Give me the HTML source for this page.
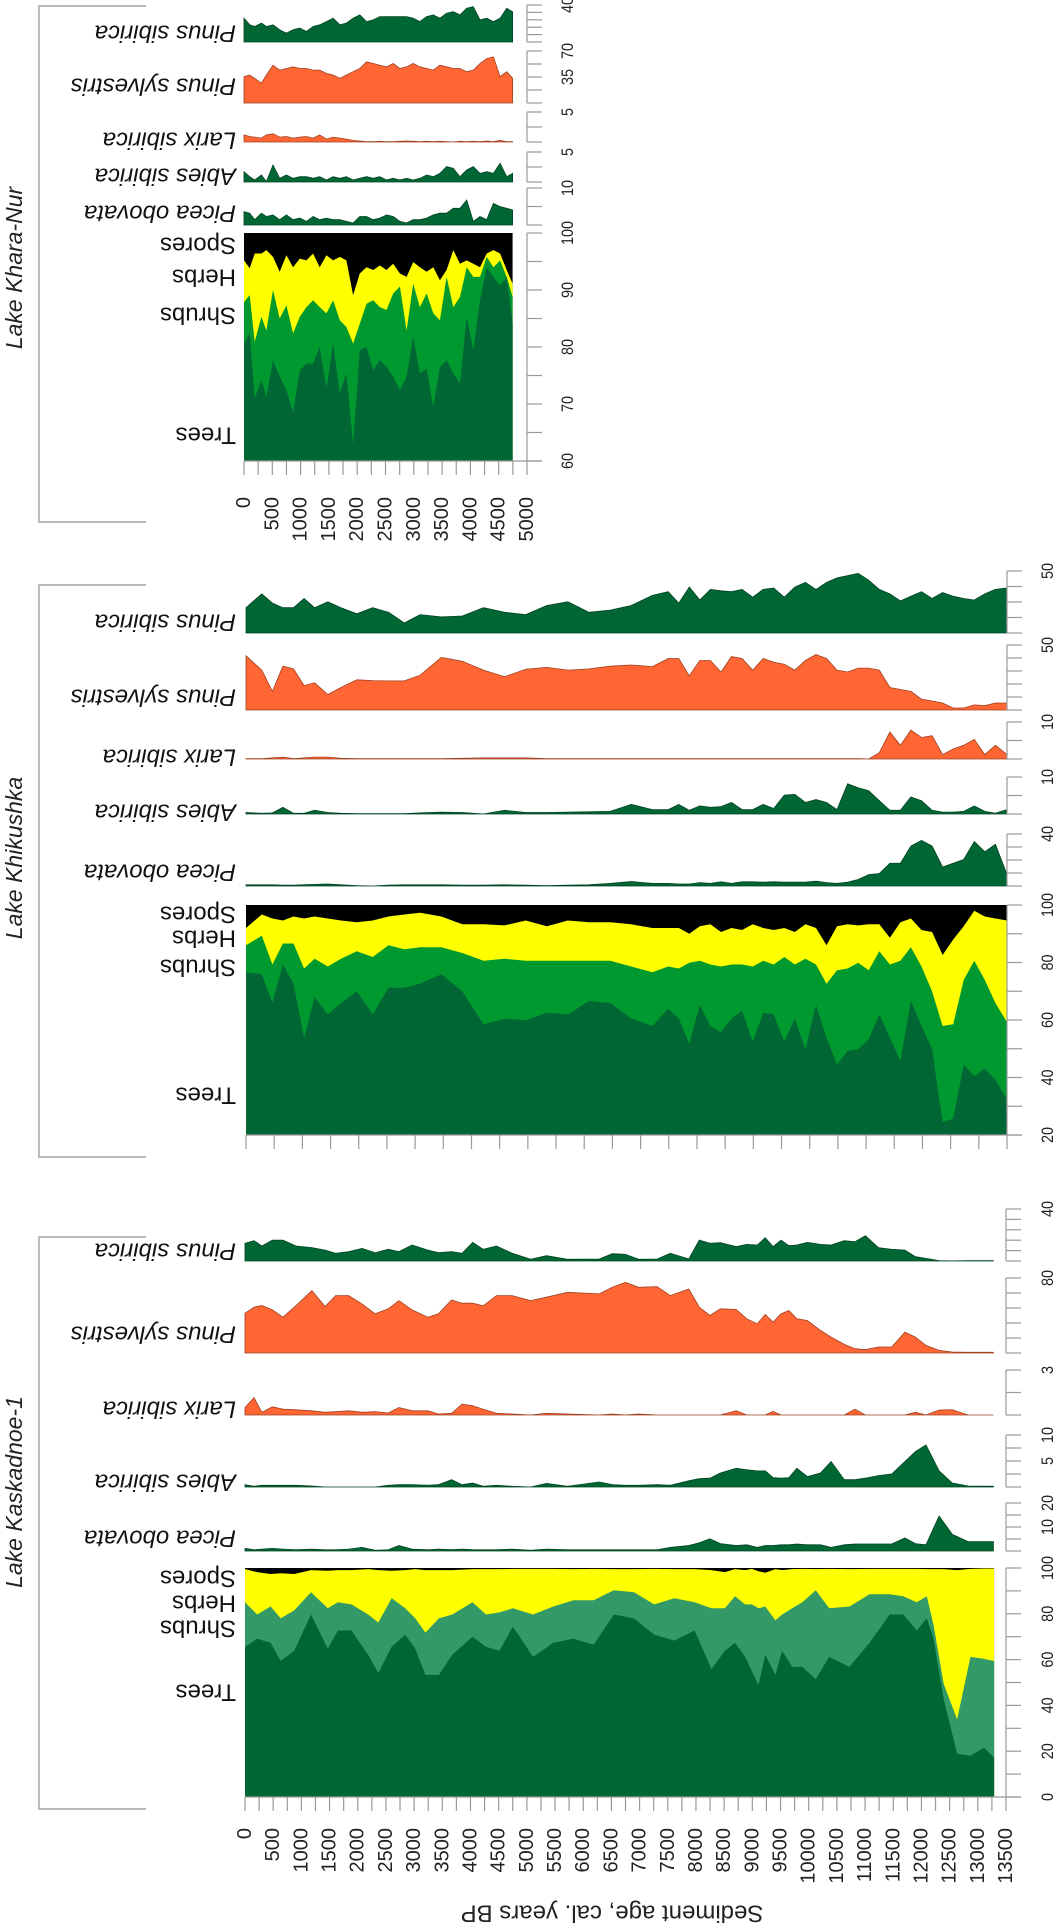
<!DOCTYPE html>
<html><head><meta charset="utf-8"><title>Pollen diagram</title>
<style>
html,body{margin:0;padding:0;background:#fff;}
svg{display:block;font-family:"Liberation Sans",Arial,sans-serif;}
</style></head>
<body>
<svg id="chart" width="1056" height="1929" viewBox="0 0 1056 1929" xmlns="http://www.w3.org/2000/svg"></svg>
<script>
// ===== Lake Khara-Nur data =====
const knAges = [0,100,189,307,395,513,631,749,867,985,1103,1220,1338,1456,1574,1692,1810,1928,2046,2164,2282,2400,2518,2636,2754,2872,2990,3108,3226,3344,3462,3580,3698,3816,3934,4052,4170,4288,4406,4524,4642,4746];
const knTrees = [80.6,82.4,71.0,74.2,71.3,77.7,74.8,72.4,68.6,75.9,77.1,77.1,80.0,72.7,80.6,71.9,75.4,62.8,79.4,80.0,75.9,77.7,76.5,74.8,72.4,74.8,81.8,75.4,76.2,69.5,76.5,77.7,75.4,73.6,85.3,79.4,88.2,94.0,92.3,90.8,92.3,84.1];
const knShrubs = [87.9,89.1,80.9,85.3,82.9,90.0,85.0,87.3,82.4,85.3,87.0,88.2,87.0,85.9,88.2,84.7,83.5,80.6,84.1,87.6,88.2,87.0,86.5,89.4,90.6,82.9,91.1,87.0,89.4,85.9,84.7,92.3,87.0,88.8,94.0,92.3,92.3,95.8,94.0,95.2,92.3,88.8];
const knHerbs = [95.2,93.8,96.4,96.4,97.0,95.8,93.2,96.1,94.0,95.5,95.2,96.4,94.0,96.1,95.2,95.8,95.2,89.1,92.9,94.0,93.5,94.3,93.5,94.6,92.9,92.3,94.9,94.0,93.2,94.0,91.7,93.5,97.0,94.6,95.2,94.6,94.0,96.4,97.0,96.4,93.5,91.1];
const knPinusSib = [25.7,18.6,16.8,20.4,16.8,18.6,13.2,9.6,13.2,15.0,11.4,16.8,18.6,22.1,25.7,18.6,20.4,25.7,29.3,22.1,23.9,27.5,27.5,27.5,27.5,27.5,25.7,22.1,27.5,29.3,25.7,31.1,32.8,29.3,36.4,38.2,23.9,25.7,22.1,25.7,36.4,32.8];
const knPinusSylv = [35.4,37.7,33.2,26.6,37.7,50.9,44.3,46.5,48.7,46.5,46.5,44.3,44.3,39.9,37.7,33.2,37.7,42.1,46.5,55.4,53.2,50.9,48.7,53.2,46.5,48.7,53.2,48.7,46.5,44.3,50.9,48.7,46.5,46.5,42.1,44.3,53.2,59.8,62.0,35.4,42.1,33.2];
const knLarix = [1.19,0.92,0.81,0.65,1.19,1.36,0.81,0.92,0.65,0.81,0.92,0.65,1.19,0.49,0.81,0.65,0.49,0.27,0.16,0.05,0.05,0.11,0.05,0.05,0.11,0.16,0.11,0.05,0.11,0.05,0.11,0.05,0,0.11,0.05,0.11,0.05,0.16,0.05,0.27,0.05,0.05];
const knAbies = [1.72,0.89,0.33,1.17,0.06,2.83,0.61,1.17,0.61,0.89,0.89,0.61,0.89,0.33,0.89,0.61,0.89,0.33,0.61,0.89,0.61,0.89,0.33,0.61,0.33,0.61,0.33,0.61,1.17,0.89,1.44,2.56,2.28,0.89,2.0,2.56,1.44,1.72,1.44,3.11,0.89,1.44];
const knPicea = [3.63,3.19,1.42,3.19,2.30,2.74,1.42,2.74,1.42,1.86,0.97,2.30,1.42,1.86,1.42,1.42,0.97,0.53,2.30,2.30,1.42,1.86,2.74,2.30,0.97,0.53,1.42,1.42,1.86,2.74,3.19,3.19,4.51,4.51,6.73,0.97,2.30,1.42,5.84,4.96,4.51,4.07];
const knAgeTicks = [0,500,1000,1500,2000,2500,3000,3500,4000,4500,5000];

// ===== Lake Khikushka data =====
const khAges = [0,281,468,655,843,1030,1217,1451,1685,1966,2247,2528,2809,3089,3464,3838,4213,4587,4962,5336,5711,6085,6460,6834,7209,7490,7677,7864,8051,8239,8426,8613,8800,8988,9175,9362,9549,9736,9924,10111,10298,10485,10673,10860,11047,11234,11422,11609,11796,11983,12171,12358,12545,12732,12920,13107,13294,13500];
const khTrees = [76.6,75.9,65.9,79.3,72.6,53.8,67.9,61.9,65.9,69.9,61.9,71.2,71.2,72.6,75.9,69.9,58.5,60.5,59.9,62.5,61.9,66.6,65.9,60.5,57.9,63.9,60.5,51.8,65.2,57.9,55.8,60.5,63.2,52.5,62.5,61.9,52.5,60.5,49.8,65.2,53.8,44.5,49.2,49.8,53.2,61.9,53.8,45.8,66.6,57.9,49.8,24.4,25.7,44.5,40.5,43.1,39.1,32.4];
const khShrubs = [86.0,89.3,79.3,86.6,86.6,77.9,81.3,78.6,81.3,83.9,81.9,86.0,84.6,85.3,85.3,83.3,80.6,81.3,80.6,80.6,80.6,80.6,80.6,78.6,76.6,78.6,77.9,79.9,80.6,79.3,78.6,79.3,79.3,78.6,80.6,79.3,81.9,79.3,81.3,79.3,72.6,77.3,77.9,79.9,77.3,83.9,79.3,80.6,85.3,78.6,69.9,57.9,58.5,73.9,80.6,73.9,65.9,59.2];
const khHerbs = [92.0,96.7,95.3,94.6,96.0,95.3,96.0,95.3,94.6,94.0,94.6,96.0,96.7,97.3,96.0,93.3,93.3,92.9,94.6,92.6,94.6,94.0,94.0,93.3,92.0,92.0,92.0,90.0,92.6,93.3,90.6,92.0,91.3,93.3,92.0,91.3,92.0,90.6,93.3,92.0,86.0,92.6,93.3,92.9,93.3,93.3,88.6,94.0,95.3,91.3,90.6,82.6,88.0,92.6,98.0,96.0,95.3,94.6];
const khPinusSib = [20.4,31.5,24.1,20.4,20.4,27.8,20.4,25.2,20.4,15.5,20.4,16.7,8.1,14.8,13.0,13.7,20.4,16.7,14.8,22.2,25.2,16.7,18.5,22.2,30.3,33.3,24.1,37.0,26.6,35.2,34.0,33.3,35.2,28.9,35.2,36.3,28.9,37.0,40.7,35.2,40.7,44.4,46.3,48.1,42.6,35.2,31.5,25.9,29.6,33.3,27.8,32.6,29.6,27.8,26.6,31.5,35.2,36.3];
const khPinusSylv = [41.7,30.7,14.3,33.7,31.6,18.8,20.9,11.9,17.3,23.2,22.6,22.4,22.4,26.8,40.5,37.5,30.7,25.6,31.3,32.8,30.7,31.6,33.7,34.6,33.4,39.6,39.6,26.2,38.1,38.1,29.2,41.1,39.6,30.7,39.6,36.7,35.2,30.7,38.1,42.6,39.6,30.7,29.2,32.2,32.2,30.7,17.3,15.8,14.3,8.3,6.9,5.4,1.5,1.5,3.9,3.3,5.4,5.4];
const khLarix = [0.1,0.1,0.3,0.5,0.1,0.3,0.5,0.5,0.2,0.1,0.1,0.1,0.1,0.1,0.1,0.2,0.3,0.3,0.3,0.1,0.1,0.1,0.1,0.1,0.1,0.1,0.1,0.1,0.1,0.1,0.1,0.1,0.1,0.1,0.1,0.1,0.1,0.1,0.1,0.1,0.1,0.1,0.1,0.1,0,1.7,7.3,3.7,7.8,5.8,6.3,1.2,2.7,3.7,5.3,1.2,3.7,1.2];
const khAbies = [0.4,0.2,0.3,1.8,0.2,0.2,1.0,0.4,0.2,0.1,0.1,0.1,0.1,0.3,0.5,0.4,0,1.0,0.4,0.4,0.5,0.6,0.7,2.6,1.2,1.2,2.6,1.0,2.2,1.8,2.0,3.1,1.2,1.2,2.6,1.5,5.1,5.3,3.1,3.9,3.1,1.2,8.2,7.1,6.3,3.6,1.0,1.0,4.6,3.6,1.0,0.5,0.5,0.7,2.2,0.7,0.2,1.2];
const khPicea = [0.9,0.9,0.9,0.6,0.6,0.9,1.2,1.5,0.9,0.3,0,0.6,0.9,0.9,0.9,0.6,0.6,0.9,0.6,0.3,0.6,0.9,2.0,3.5,2.0,2.0,1.5,1.5,2.6,2.0,3.2,2.0,3.2,3.2,2.9,3.2,2.9,2.9,2.9,3.8,2.6,2.0,2.9,5.0,8.8,9.6,17.5,17.5,30.7,35.0,30.7,14.6,17.5,20.4,34.2,26.3,32.1,8.8];

// ===== Lake Kaskadnoe-1 data =====
const ksAges = [0,215,454,633,872,1170,1469,1648,1887,2185,2364,2603,2842,3021,3200,3439,3678,4036,4275,4513,4752,5110,5469,5827,6185,6543,6901,7260,7618,7976,8274,8513,8692,8871,8991,9110,9230,9409,9528,9707,9886,10125,10364,10722,11080,11439,11677,11916,12095,12215,12394,12633,12871,13110,13289];
const ksTrees = [65.6,69.1,67.4,59.4,63.8,79.7,64.7,72.7,72.7,62.1,54.1,65.6,70.9,64.7,53.3,53.3,62.1,70.0,65.6,63.8,74.4,61.2,67.4,69.1,66.5,79.7,78.0,70.9,68.3,72.7,55.9,63.8,67.4,61.2,55.0,48.9,62.1,53.3,63.8,56.8,56.8,51.5,61.2,56.8,67.4,79.7,79.7,72.7,78.0,69.1,42.7,18.9,18.0,21.5,17.1];
const ksShrubs = [85.0,79.7,83.2,78.0,81.5,89.4,82.4,85.0,84.1,79.7,76.2,86.8,82.4,78.0,71.8,78.0,79.7,85.0,79.7,80.6,82.4,79.7,83.2,85.9,85.9,90.3,89.4,84.1,86.8,85.0,82.4,82.4,87.7,84.1,84.1,82.4,83.2,77.1,79.7,82.4,85.0,90.3,82.4,83.2,88.5,88.5,87.7,85.0,87.7,75.0,49.4,33.9,61.2,60.3,59.4];
const ksHerbs = [99.5,98.2,97.4,97.7,97.4,99.1,98.8,99.1,99.1,99.5,99.1,98.8,99.1,99.5,99.1,99.1,99.1,99.5,99.5,99.5,99.6,99.6,99.6,99.5,99.6,99.5,99.5,99.6,99.5,99.5,99.1,98.2,99.5,99.1,99.6,98.6,97.9,99.5,99.1,99.5,99.6,99.5,99.6,99.5,99.6,99.6,99.6,99.6,99.5,99.5,99.5,99.1,99.6,99.8,99.8];
const ksTaxaAges = [0,159,299,486,673,907,1187,1421,1608,1842,2076,2309,2543,2730,2964,3244,3431,3665,3852,4039,4226,4460,4740,5068,5348,5722,6283,6517,6751,6984,7312,7545,7873,8060,8247,8434,8714,8901,9088,9228,9369,9509,9649,9789,9976,10210,10397,10631,10818,11005,11239,11472,11706,11893,12080,12314,12548,12828,13277];
const ksPinusSib = [13.6,15.6,11.5,16.1,16.1,11.5,10.2,8.4,5.9,7.2,9.7,6.4,9.0,7.2,12.3,8.4,6.4,7.2,5.9,14.3,9.0,11.5,5.9,1.3,4.1,1.3,1.5,5.6,5.1,1.3,1.5,5.9,1.5,16.1,13.6,14.1,11.0,12.8,12.3,17.9,11.0,16.1,11.8,12.3,14.3,12.8,12.3,15.6,14.8,19.5,10.2,9.0,8.4,3.3,2.0,0.3,0.1,0.2,0.2];
const ksPinusSylv = [42.5,48.9,50.6,46.0,38.2,50.6,66.6,49.6,61.2,61.2,52.4,41.8,47.1,55.9,46.0,38.2,41.8,56.6,53.1,53.1,50.3,61.2,61.2,55.9,59.5,64.8,63.0,70.1,75.4,70.1,70.8,61.2,68.3,48.9,40.0,47.1,46.4,36.5,31.2,41.1,32.9,41.8,45.3,36.5,34.7,24.1,17.0,9.2,4.6,3.5,6.4,6.4,22.3,17.0,8.1,2.8,1.1,0.7,0.7];
const ksLarix = [0.5,1.16,0.18,0.55,0.39,0.35,0.28,0.18,0.22,0.28,0.18,0.22,0.13,0.5,0.28,0.28,0.07,0.11,0.72,0.61,0.39,0.11,0.07,0,0.11,0.07,0,0.07,0,0.07,0,0,0,0,0,0,0.28,0,0,0,0.24,0,0,0,0,0,0,0,0.39,0,0,0,0,0.18,0,0.33,0.35,0,0];
const ksAbies = [0.45,0.13,0.32,0.32,0.32,0.32,0.19,0,0,0,0,0,0.32,0.45,0.45,0.32,0.45,1.4,0.45,0.76,0.13,0.32,0.13,0,0.70,0.13,0.96,0.45,0.32,0.32,0.45,0.32,1.2,1.6,1.7,2.7,3.6,3.3,3.1,3.1,1.8,1.7,1.8,3.6,2.0,2.7,4.9,1.4,1.4,1.7,2.2,2.5,4.9,6.8,8.1,3.1,0.76,0.19,0.13];
const ksPicea = [1.1,0.5,0.8,1.1,0.8,0.5,0.8,0.5,0.5,0.8,1.5,0.3,0.5,2.3,0.8,0.5,0.8,0.6,0.8,0.6,0.5,0.5,0.8,0.3,0.8,0.5,0.5,0.5,0.5,0.5,0.5,1.5,2.3,3.4,5.1,3.1,2.3,2.6,1.5,2.3,2.3,2.6,2.6,2.9,2.6,2.6,1.5,2.6,2.9,2.9,2.9,2.9,5.4,3.1,2.6,14.6,6.9,3.9,3.9];
const ksAgeTicks = [0,500,1000,1500,2000,2500,3000,3500,4000,4500,5000,5500,6000,6500,7000,7500,8000,8500,9000,9500,10000,10500,11000,11500,12000,12500,13000,13500];

// ===== drawing =====
const NS = "http://www.w3.org/2000/svg";
const svg = document.getElementById("chart");
const C_TREE = "#006633", C_SHRUB = "#00992f", C_SHRUB2 = "#339966", C_HERB = "#ffff00", C_SPORE = "#000000", C_OR = "#ff6633";
const AXC = "#999";

function mk(tag, attrs, parent) {
  const e = document.createElementNS(NS, tag);
  for (const k in attrs) e.setAttribute(k, attrs[k]);
  (parent || svg).appendChild(e);
  return e;
}
function ageScale(x0, x1, a1) { return a => x0 + (a / a1) * (x1 - x0); }
function valScale(base, top, vmin, vmax) { return v => base - (Math.max(vmin, Math.min(vmax, v)) - vmin) / (vmax - vmin) * (base - top); }

function areaPath(ages, vals, xs, ys, yBase) {
  let d = "M" + xs(ages[0]).toFixed(1) + "," + yBase;
  for (let i = 0; i < ages.length; i++) d += " L" + xs(ages[i]).toFixed(1) + "," + ys(vals[i]).toFixed(1);
  d += " L" + xs(ages[ages.length - 1]).toFixed(1) + "," + yBase + " Z";
  return d;
}

function rightAxis(g, xA, base, top, nTicks, labels, vmax, vmin, labX) {
  vmin = vmin || 0;
  const a = mk("line", {x1: xA, y1: base, x2: xA, y2: top, stroke: AXC, "stroke-width": 1.2}, g);
  
  
  for (let i = 0; i <= nTicks; i++) {
    const y = base - i / nTicks * (base - top);
    const t = mk("line", {x1: xA, y1: y, x2: xA + 15, y2: y, stroke: AXC, "stroke-width": 1.2}, g);
    
    
  }
  const ys = valScale(base, top, vmin, vmax);
  labels.forEach(v => {
    const y = ys(v);
    const tx = mk("text", {x: 0, y: 0, "font-size": 17, fill: "#222", "text-anchor": "middle", "dominant-baseline": "central",
      transform: "translate(" + labX + "," + y + ") rotate(-90) scale(0.85,1)"}, g);
    tx.textContent = String(v);
    
    
  });
}

function taxonLabel(g, text, x, y, italic) {
  const t = mk("text", {x: 0, y: 0, "font-size": 24, fill: "#111", "text-anchor": "start", "dominant-baseline": "central",
    "font-style": italic ? "italic" : "normal", transform: "translate(" + x + "," + y + ") rotate(180)"}, g);
  t.textContent = text;
  
  
}

function drawLake(cfg) {
  const g = mk("g", {});
  
  
  // bracket frame
  const fr = mk("path", {d: "M146," + cfg.fTop + " L39," + cfg.fTop + " L39," + cfg.fBot + " L146," + cfg.fBot, fill: "none", stroke: "#bbb", "stroke-width": 2}, g);
  
  
  const lt = mk("text", {x: 0, y: 0, "font-size": 23, "font-style": "italic", fill: "#222", "text-anchor": "middle", "dominant-baseline": "central",
    transform: "translate(14," + cfg.labelY + ") rotate(-90)"}, g);
  lt.textContent = cfg.title;
  
  

  const xs = ageScale(cfg.x0, cfg.x1, cfg.aMax);
  // taxa strips
  cfg.strips.forEach(s => {
    const ys = valScale(s.base, s.top, 0, s.max);
    const p = mk("path", {d: areaPath(s.ages, s.vals, xs, ys, s.base), fill: s.color, stroke: s.stroke, "stroke-width": 0.8}, g);
    
    
    rightAxis(g, cfg.xA, s.base, s.top, s.ticks, s.labels, s.max, 0, cfg.labX);
    taxonLabel(g, s.label, cfg.labelRight, s.ly, true);
  });
  // composite
  const c = cfg.comp;
  const ysC = valScale(c.base, c.top, c.min, 100);
  const full = c.ages.map(() => 100);
  const layers = [[full, C_SPORE, "spores-area"], [c.herbs, C_HERB, "herbs-area"], [c.shrubs, c.shrubColor, "shrubs-area"], [c.trees, C_TREE, "trees-area"]];
  layers.forEach(L => {
    const p = mk("path", {d: areaPath(c.ages, L[0], xs, ysC, c.base), fill: L[1], stroke: "none"}, g);
    
    
  });
  rightAxis(g, cfg.xA, c.base, c.top, c.ticks, c.labels, 100, c.min, cfg.labX);
  const bl = mk("line", {x1: cfg.x0, y1: c.base, x2: cfg.xA + 15, y2: c.base, stroke: AXC, "stroke-width": 1.2}, g);
  
  
  c.names.forEach(n => taxonLabel2(g, n[0], cfg.labelRight, n[1]));
  // age ticks
  for (let a = 0; a <= cfg.aMax; a += cfg.tickStep) {
    const x = xs(a);
    const t = mk("line", {x1: x, y1: c.base, x2: x, y2: c.base + 14, stroke: AXC, "stroke-width": 1.2}, g);
    
    
  }
  if (cfg.ageLabels) {
    cfg.ageLabels.forEach(a => {
      const t = mk("text", {x: 0, y: 0, "font-size": 20, fill: "#222", "text-anchor": "end", "dominant-baseline": "central",
        transform: "translate(" + xs(a).toFixed(1) + "," + cfg.ageLabY + ") rotate(-90)"}, g);
      t.textContent = String(a);
      
      
    });
  }
}
function taxonLabel2(g, text, x, y) {
  const t = mk("text", {x: 0, y: 0, "font-size": 24, fill: "#111", "text-anchor": "start", "dominant-baseline": "central",
    transform: "translate(" + x + "," + y + ") rotate(180)"}, g);
  t.textContent = text;
  
  
}

// Khara-Nur
drawLake({name: "lake-khara-nur-panel", title: "Lake Khara-Nur", fTop: 6, fBot: 522, labelY: 268,
  x0: 244, x1: 527, aMax: 5000, xA: 527, labX: 568, labelRight: 236, tickStep: 250, ageLabels: knAgeTicks, ageLabY: 497,
  strips: [
    {id: "kn-pinus-sibirica", ages: knAges, vals: knPinusSib, base: 42, top: 5, max: 40, ticks: 5, labels: [40], color: C_TREE, stroke: "#004422", label: "Pinus sibirica", ly: 33},
    {id: "kn-pinus-sylvestris", ages: knAges, vals: knPinusSylv, base: 103, top: 51, max: 70, ticks: 4, labels: [35, 70], color: C_OR, stroke: "#a04020", label: "Pinus sylvestris", ly: 86},
    {id: "kn-larix-sibirica", ages: knAges, vals: knLarix, base: 142, top: 112, max: 5, ticks: 2, labels: [5], color: C_OR, stroke: "#a04020", label: "Larix sibirica", ly: 140},
    {id: "kn-abies-sibirica", ages: knAges, vals: knAbies, base: 182, top: 152, max: 5, ticks: 2, labels: [5], color: C_TREE, stroke: "#004422", label: "Abies sibirica", ly: 176},
    {id: "kn-picea-obovata", ages: knAges, vals: knPicea, base: 225, top: 188, max: 10, ticks: 2, labels: [10], color: C_TREE, stroke: "#004422", label: "Picea obovata", ly: 213}
  ],
  comp: {ages: knAges, trees: knTrees, shrubs: knShrubs, herbs: knHerbs, base: 461, top: 233, min: 60, ticks: 8, labels: [60, 70, 80, 90, 100], shrubColor: C_SHRUB,
    names: [["Spores", 245], ["Herbs", 277], ["Shrubs", 315], ["Trees", 435]]}
});

// Khikushka
drawLake({name: "lake-khikushka-panel", title: "Lake Khikushka", fTop: 585, fBot: 1157, labelY: 858,
  x0: 246, x1: 1007, aMax: 13500, xA: 1007, labX: 1048, labelRight: 236, tickStep: 500, ageLabels: null,
  strips: [
    {id: "kh-pinus-sibirica", ages: khAges, vals: khPinusSib, base: 633, top: 571, max: 50, ticks: 4, labels: [50], color: C_TREE, stroke: "#004422", label: "Pinus sibirica", ly: 622},
    {id: "kh-pinus-sylvestris", ages: khAges, vals: khPinusSylv, base: 710, top: 645, max: 50, ticks: 5, labels: [50], color: C_OR, stroke: "#a04020", label: "Pinus sylvestris", ly: 697},
    {id: "kh-larix-sibirica", ages: khAges, vals: khLarix, base: 759, top: 722, max: 10, ticks: 2, labels: [10], color: C_OR, stroke: "#a04020", label: "Larix sibirica", ly: 757},
    {id: "kh-abies-sibirica", ages: khAges, vals: khAbies, base: 814, top: 777, max: 10, ticks: 2, labels: [10], color: C_TREE, stroke: "#004422", label: "Abies sibirica", ly: 812},
    {id: "kh-picea-obovata", ages: khAges, vals: khPicea, base: 886, top: 834, max: 40, ticks: 4, labels: [40], color: C_TREE, stroke: "#004422", label: "Picea obovata", ly: 872}
  ],
  comp: {ages: khAges, trees: khTrees, shrubs: khShrubs, herbs: khHerbs, base: 1135, top: 905, min: 20, ticks: 8, labels: [20, 40, 60, 80, 100], shrubColor: C_SHRUB,
    names: [["Spores", 914], ["Herbs", 938], ["Shrubs", 967], ["Trees", 1095]]}
});

// Kaskadnoe-1
drawLake({name: "lake-kaskadnoe-panel", title: "Lake Kaskadnoe-1", fTop: 1237, fBot: 1809, labelY: 1492,
  x0: 245, x1: 1006, aMax: 13500, xA: 1006, labX: 1048, labelRight: 236, tickStep: 250, ageLabels: ksAgeTicks, ageLabY: 1828,
  strips: [
    {id: "ks-pinus-sibirica", ages: ksTaxaAges, vals: ksPinusSib, base: 1261, top: 1209, max: 40, ticks: 5, labels: [40], color: C_TREE, stroke: "#004422", label: "Pinus sibirica", ly: 1251},
    {id: "ks-pinus-sylvestris", ages: ksTaxaAges, vals: ksPinusSylv, base: 1353, top: 1278, max: 80, ticks: 5, labels: [80], color: C_OR, stroke: "#a04020", label: "Pinus sylvestris", ly: 1334},
    {id: "ks-larix-sibirica", ages: ksTaxaAges, vals: ksLarix, base: 1415, top: 1370, max: 3, ticks: 2, labels: [3], color: C_OR, stroke: "#a04020", label: "Larix sibirica", ly: 1409},
    {id: "ks-abies-sibirica", ages: ksTaxaAges, vals: ksAbies, base: 1487, top: 1435, max: 10, ticks: 4, labels: [5, 10], color: C_TREE, stroke: "#004422", label: "Abies sibirica", ly: 1482},
    {id: "ks-picea-obovata", ages: ksTaxaAges, vals: ksPicea, base: 1551, top: 1503, max: 20, ticks: 4, labels: [10, 20], color: C_TREE, stroke: "#004422", label: "Picea obovata", ly: 1538}
  ],
  comp: {ages: ksAges, trees: ksTrees, shrubs: ksShrubs, herbs: ksHerbs, base: 1797, top: 1568, min: 0, ticks: 10, labels: [0, 20, 40, 60, 80, 100], shrubColor: C_SHRUB2,
    names: [["Spores", 1578], ["Herbs", 1603], ["Shrubs", 1628], ["Trees", 1692]]}
});

// x-axis title
const xt = mk("text", {x: 0, y: 0, "font-size": 24, fill: "#222", "text-anchor": "middle", "dominant-baseline": "central",
  transform: "translate(612,1913) rotate(180)"});
xt.textContent = "Sediment age, cal. years BP";


</script>
</body></html>
